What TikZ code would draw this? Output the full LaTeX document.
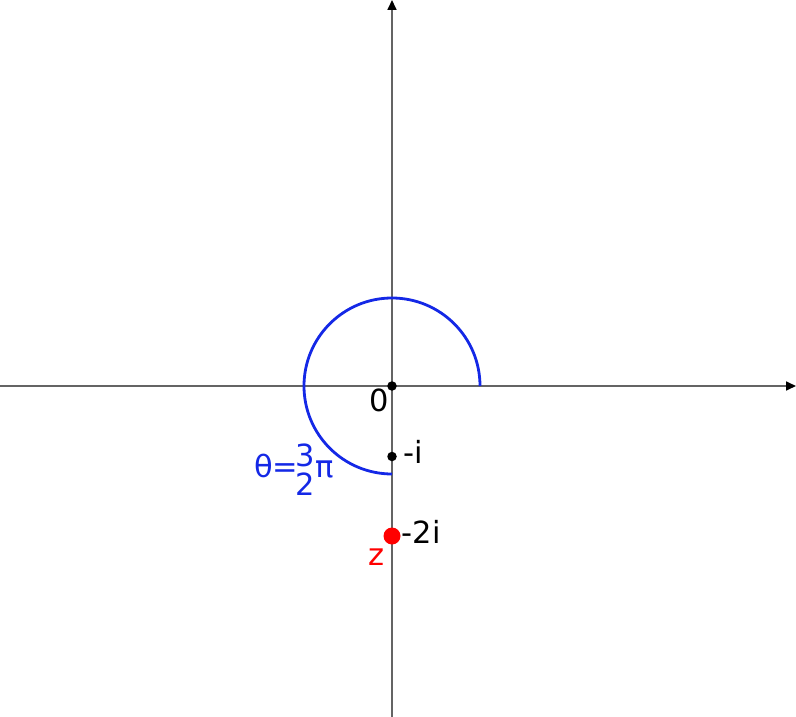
\documentclass[tikz,border=0pt]{standalone}
\usepackage{fontspec}
\setmainfont{DejaVu Sans}
\usetikzlibrary{arrows.meta}
\definecolor{axisgray}{RGB}{100,100,100}
\definecolor{arcblue}{RGB}{20,40,230}
\definecolor{ptred}{RGB}{255,0,0}
\tikzset{
  axisline/.style={draw=axisgray,line width=1.7pt,-{Triangle[length=10pt,width=9pt,fill=black,color=black]}},
  arcline/.style={draw=arcblue,line width=2.8pt},
  blackdot/.style={circle,fill=black,inner sep=0pt,minimum size=9.5pt},
  reddot/.style={circle,fill=ptred,inner sep=0pt,minimum size=17pt},
  lbl/.style={inner sep=0pt,font=\fontsize{30.5}{36}\selectfont},
}
\begin{document}
\begin{tikzpicture}[x=1pt,y=-1pt]
\useasboundingbox (0,0) rectangle (796,717);
\coordinate (xl) at (0,386);
\coordinate (xr) at (796,386);
\coordinate (yb) at (392,717);
\coordinate (yt) at (392,0);
\coordinate (O) at (392,386);
\coordinate (A) at (480,386);
\draw[axisline] (xl) -- (xr);
\draw[axisline] (yb) -- (yt);
\draw[arcline] (A) arc[start angle=0,end angle=-270,radius=88];
\node[blackdot] (p0) at (O) {};
\node[blackdot] (pmi) at (392,456.5) {};
\node[reddot] (pz) at (392,536) {};
\node[lbl,anchor=base] (l0) at (379,411.5) {0};
\node[lbl,anchor=base west] (lmi) at (403.5,463) {-i};
\node[lbl,anchor=base west] (lm2i) at (401.5,543.5) {-2i};
\node[lbl,anchor=base,text=ptred] (lz) at (377,565) {z};
\node[lbl,anchor=base west,text=arcblue] (lth) at (254,477)
  {θ=\hspace{-2.5pt}\raisebox{11pt}{3}\llap{\raisebox{-18.5pt}{2}}π};
\end{tikzpicture}
\end{document}
